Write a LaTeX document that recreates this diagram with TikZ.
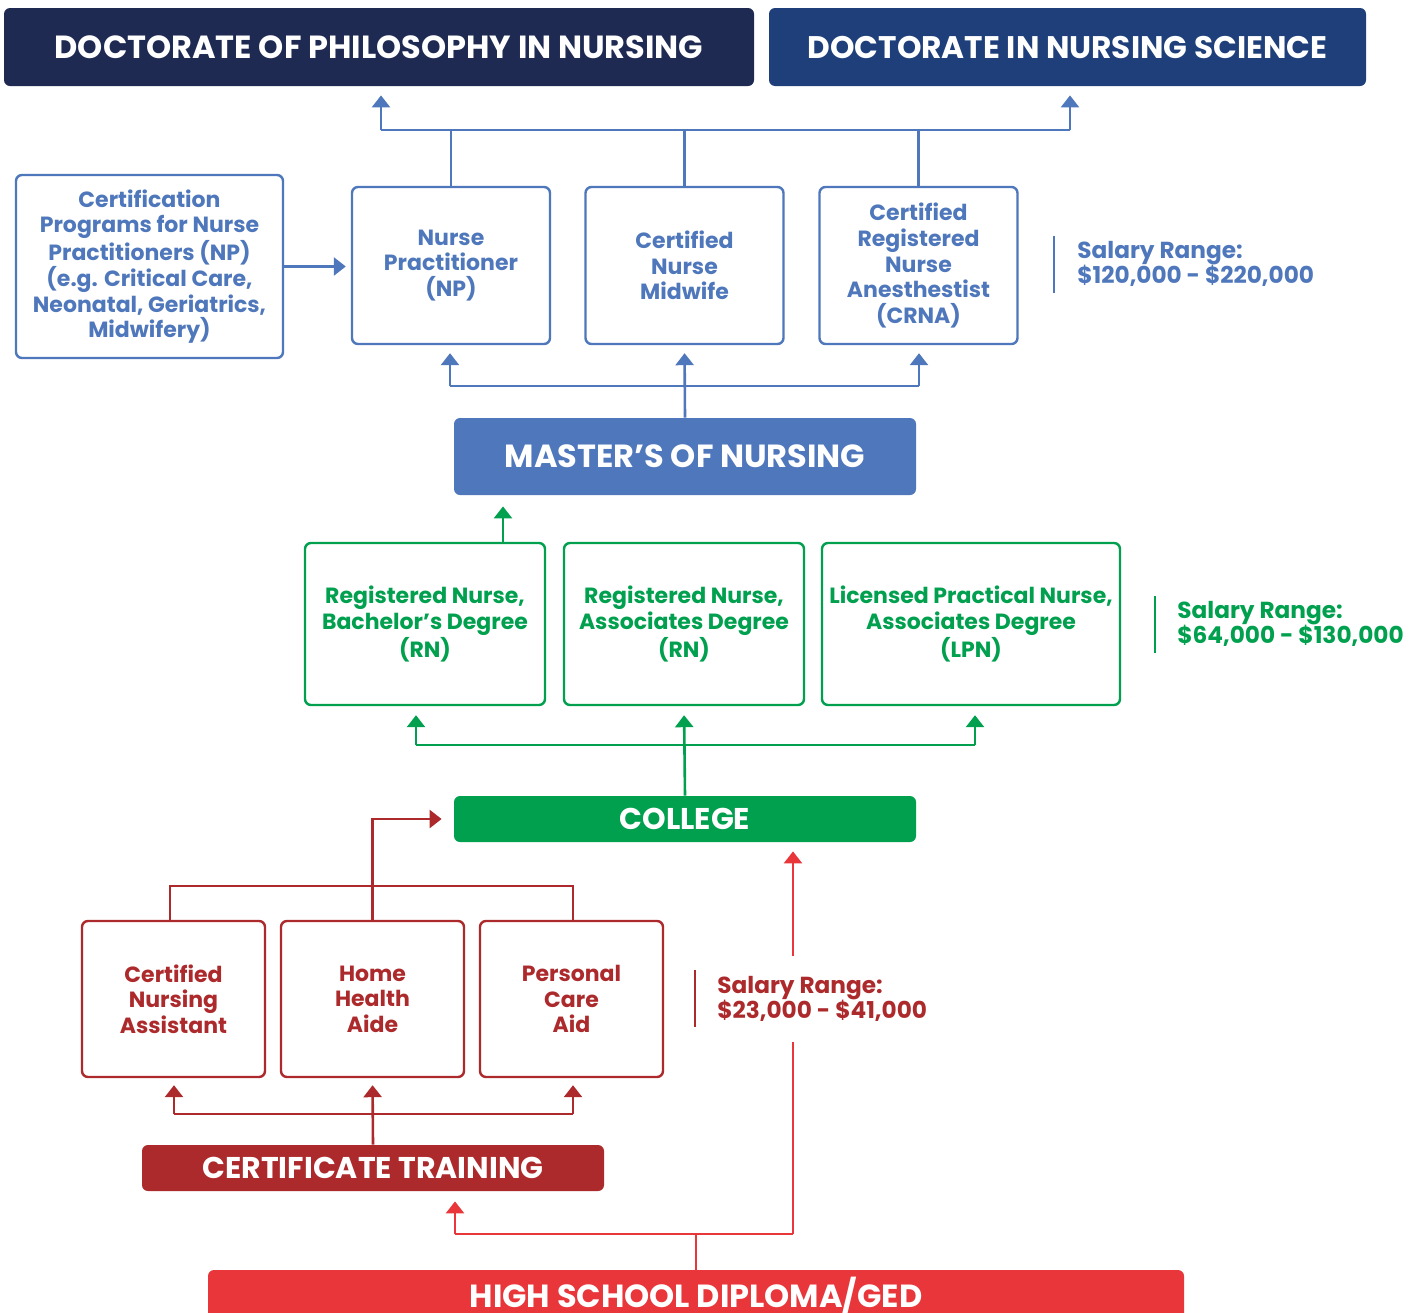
\documentclass[tikz,border=0pt]{standalone}
\usepackage{fontspec}
\setmainfont{Poppins}
\usetikzlibrary{arrows.meta}
\definecolor{navya}{HTML}{1F2A52}
\definecolor{navyb}{HTML}{1E3F7A}
\definecolor{blu}{HTML}{4F77BB}
\definecolor{grn}{HTML}{00A04F}
\definecolor{dred}{HTML}{AD2A2C}
\definecolor{bred}{HTML}{E8363A}
\tikzset{
  hdr/.style={rounded corners=3pt,text=white,inner sep=0pt,font=\bfseries\fontsize{16}{19}\selectfont},
  lvl/.style={hdr,font=\bfseries\fontsize{15}{18}\selectfont},
  box/.style={draw,rounded corners=3pt,line width=1.2pt,align=center,inner sep=0pt,font=\bfseries\fontsize{11}{12.8}\selectfont},
  sal/.style={align=left,inner sep=0pt,font=\bfseries\fontsize{11.6}{12.6}\selectfont},
  ln/.style={line width=1.3pt},
  >={Triangle[width=9pt,length=6pt]}
}
\begin{document}
\begin{tikzpicture}[x=0.5pt,y=-0.5pt]
\useasboundingbox[fill=white](0,0)rectangle(1419,1312);
% top level
\node[hdr,fill=navya,minimum width=375pt,minimum height=39pt](phd)at(379,47){DOCTORATE OF PHILOSOPHY IN NURSING};
\node[hdr,fill=navyb,minimum width=298.5pt,minimum height=39pt,font=\bfseries\fontsize{15.6}{19}\selectfont](dns)at(1067.5,47){DOCTORATE IN NURSING SCIENCE};
% masters
\node[box,draw=blu,text=blu,minimum width=133.5pt,minimum height=91.5pt](cert)at(149.5,266.5){Certification\\Programs for Nurse\\Practitioners (NP)\\(e.g. Critical Care,\\Neonatal, Geriatrics,\\Midwifery)};
\node[box,draw=blu,text=blu,minimum width=99pt,minimum height=78.5pt](np)at(451,265.5){Nurse\\Practitioner\\(NP)};
\node[box,draw=blu,text=blu,minimum width=99pt,minimum height=78.5pt](cnm)at(684.5,265.5){Certified\\Nurse\\Midwife};
\node[box,draw=blu,text=blu,minimum width=99pt,minimum height=78.5pt](crna)at(918.5,265.5){Certified\\Registered\\Nurse\\Anesthestist\\(CRNA)};
\node[hdr,fill=blu,minimum width=231pt,minimum height=38.5pt](master)at(685,456.5){MASTER’S OF NURSING};
% college
\node[box,draw=grn,text=grn,minimum width=120pt,minimum height=81pt](rnb)at(425,624){Registered Nurse,\\Bachelor’s Degree\\(RN)};
\node[box,draw=grn,text=grn,minimum width=120pt,minimum height=81pt](rna)at(684,624){Registered Nurse,\\Associates Degree\\(RN)};
\node[box,draw=grn,text=grn,minimum width=149pt,minimum height=81pt](lpn)at(971,624){Licensed Practical Nurse,\\Associates Degree\\(LPN)};
\node[lvl,fill=grn,minimum width=231pt,minimum height=23pt](college)at(685,819){COLLEGE};
% certificate
\node[box,draw=dred,text=dred,minimum width=91.5pt,minimum height=78pt](cna)at(173.5,999){Certified\\Nursing\\Assistant};
\node[box,draw=dred,text=dred,minimum width=91.5pt,minimum height=78pt](hha)at(372.5,999){Home\\Health\\Aide};
\node[box,draw=dred,text=dred,minimum width=91.5pt,minimum height=78pt](pca)at(571.5,999){Personal\\Care\\Aid};
\node[lvl,fill=dred,minimum width=231pt,minimum height=23pt](certtr)at(373,1168){CERTIFICATE TRAINING};
\node[hdr,fill=bred,minimum width=488pt,minimum height=25pt](hs)at(696,1295){HIGH SCHOOL DIPLOMA/GED};
% blue connectors
\coordinate(b1)at(381,130);\coordinate(b2)at(1070,130);
\foreach \n in {np,cnm,crna}\draw[ln,blu](\n.north)--(\n.north|-b1);
\draw[ln,blu](b1)--(b2);
\draw[ln,blu,->,shorten >=4.5pt](b1)--(b1|-phd.south);
\draw[ln,blu,->,shorten >=4.5pt](b2)--(b2|-dns.south);
\draw[ln,blu,->,shorten >=2.5pt](cert.east)--(cert.east-|np.west);
\coordinate(m1)at(450,386);\coordinate(m2)at(919,386);
\draw[ln,blu](m1)--(m2);
\draw[ln,blu,->,shorten >=4pt](master.north)--(cnm.south);
\draw[ln,blu,->,shorten >=4pt](m1)--(m1|-np.south);
\draw[ln,blu,->,shorten >=4pt](m2)--(m2|-crna.south);
% green connectors
\draw[ln,grn,->,shorten >=5.5pt]([xshift=39pt]rnb.north)--([xshift=39pt]rnb.north|-master.south);
\coordinate(g1)at(416,745);\coordinate(g2)at(975,745);
\draw[ln,grn](g1)--(g2);
\draw[ln,grn,->,shorten >=4.5pt](college.north)--(rna.south);
\draw[ln,grn,->,shorten >=4.5pt](g1)--(g1|-rnb.south);
\draw[ln,grn,->,shorten >=4.5pt](g2)--(g2|-lpn.south);
% red connectors
\coordinate(r1)at(170,886);\coordinate(r2)at(573,886);
\draw[ln,dred](cna.north-|r1)--(r1)--(r2)--(pca.north-|r2);
\draw[ln,dred,->,shorten >=6pt](hha.north)|-(college.west);
\coordinate(c1)at(174,1114);\coordinate(c2)at(573,1114);
\draw[ln,dred](c1)--(c2);
\draw[ln,dred,->,shorten >=3.5pt](certtr.north)--(hha.south);
\draw[ln,dred,->,shorten >=3.5pt](c1)--(c1|-cna.south);
\draw[ln,dred,->,shorten >=3.5pt](c2)--(c2|-pca.south);
\coordinate(h1)at(455,1234);\coordinate(h2)at(793,1234);
\draw[ln,bred](hs.north)--(hs.north|-h1);
\draw[ln,bred](h1)--(h2);
\draw[ln,bred,->,shorten >=5pt](h1)--(h1|-certtr.south);
\draw[ln,bred,->,shorten >=4.5pt](h2)--(h2|-college.south);
% salaries
\draw[ln,blu](1054,236)--(1054,293);
\node[sal,text=blu,anchor=west](salb)at(1077,264){Salary Range:\\\$120,000 - \$220,000};
\draw[ln,grn](1155,596)--(1155,653);
\node[sal,text=grn,anchor=west](salg)at(1177,624){Salary Range:\\\$64,000 - \$130,000};
\draw[ln,dred](695,970)--(695,1027);
\node[sal,text=dred,anchor=west,fill=white,inner xsep=3pt,minimum height=43pt](salr)at(711,999){Salary Range:\\\$23,000 - \$41,000};
\end{tikzpicture}
\end{document}
